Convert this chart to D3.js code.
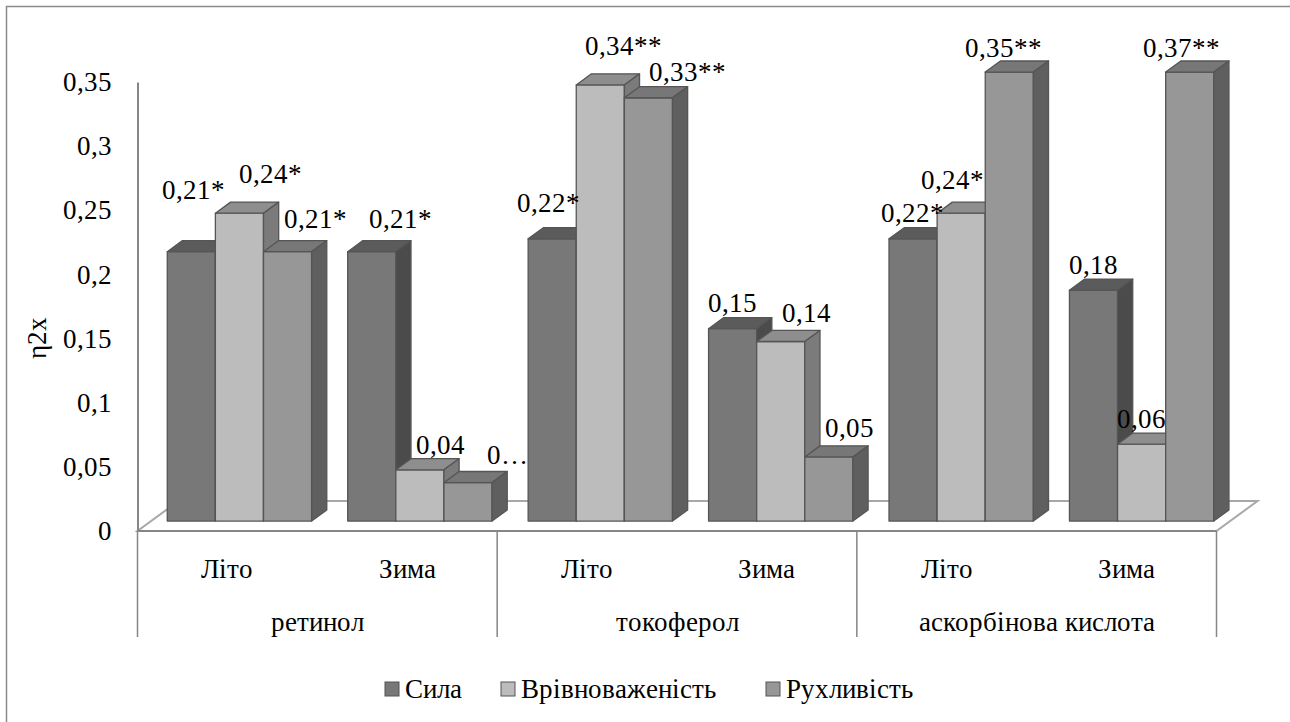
<!DOCTYPE html>
<html>
<head>
<meta charset="utf-8">
<script src="https://cdn.jsdelivr.net/npm/d3@7/dist/d3.min.js"></script>
<style>
  @font-face { font-family: "ChartSerif"; src: local("Liberation Serif"), local("LiberationSerif-Regular"), local("Times New Roman"); }
  svg text { font-family: "ChartSerif", "Liberation Serif", "Times New Roman", serif !important; }
</style>
</head>
<body style="margin:0;background:#fff">
<svg id="chart" width="1290" height="722"></svg>
<script>
// Seasons (inner categories) and substances (outer categories)
const seasons = ["Літо", "Зима", "Літо", "Зима", "Літо", "Зима"];
const substances = ["ретинол", "токоферол", "аскорбінова кислота"];
const seriesNames = ["Сила", "Врівноваженість", "Рухливість"];

// η2x values per series, one per season/substance pair
const sila = [0.21, 0.21, 0.22, 0.15, 0.22, 0.18];
const vrivn = [0.24, 0.04, 0.34, 0.14, 0.24, 0.06];
const rukh = [0.21, 0.03, 0.33, 0.05, 0.35, 0.37];

// significance marks appended to the value labels
const silaStars = ["*", "*", "*", "", "*", ""];
const vrivnStars = ["*", "", "**", "", "*", ""];
const rukhStars = ["*", "", "**", "", "**", "**"];

const yTicks = [0, 0.05, 0.1, 0.15, 0.2, 0.25, 0.3, 0.35];
const yMax = 0.35;

const seriesValues = [sila, vrivn, rukh];
const seriesStars = [silaStars, vrivnStars, rukhStars];

// ---- drawing ----
const FONT = "Liberation Serif";
const FS = 27;
const svg = d3.select("#chart");
const frontFill = ["#787878", "#bcbcbc", "#979797"];
const topFill = ["#5b5b5b", "#8e8e8e", "#777777"];
const sideFill = ["#4b4b4b", "#7b7b7b", "#5f5f5f"];
const edge = "#555555";

// serif text helper
const styleText = sel => sel.attr("font-family", FONT).attr("font-size", FS).attr("fill", "#000");

// plot box on the front plane
const x0 = 137.5, x1 = 1216.5;
const yBase = 531, yTop = 82;
// full floor depth offset and the slice of it occupied by the bars
const depth = { dx: 41, dy: -30 };
const zFront = 0.33, zBack = 0.70;

const x = d3.scaleBand().domain(d3.range(seasons.length)).range([x0, x1]).paddingInner(0.2).paddingOuter(0.09);
const xs = d3.scaleBand().domain(d3.range(seriesNames.length)).range([0, x.bandwidth()]);
const y = d3.scaleLinear().domain([0, yMax]).range([yBase, yTop]).clamp(true);

const proj = (px, py, z) => [px + z * depth.dx, py + z * depth.dy];

// outer frame
svg.append("rect").attr("x", 6.5).attr("y", 6.5).attr("width", 1400).attr("height", 900)
  .attr("fill", "none").attr("stroke", "#8c8c8c").attr("stroke-width", 1.5);

// floor
const floor = [proj(x0, yBase, 0), proj(x1, yBase, 0), proj(x1, yBase, 1), proj(x0, yBase, 1)];
svg.append("path").attr("d", d3.line()(floor) + "Z")
  .attr("fill", "none").attr("stroke", "#a8a8a8").attr("stroke-width", 2);

// value axis
const yAxis = d3.axisLeft(y).tickValues(yTicks).tickSize(0).tickPadding(26)
  .tickFormat(d => d3.format(".2~f")(d).replace(".", ","));
const gy = svg.append("g").attr("transform", `translate(${x0},0)`).call(yAxis)
  .attr("font-family", FONT).attr("font-size", FS);
gy.select(".domain").attr("stroke", "#868686").attr("stroke-width", 2);
gy.selectAll("text").call(styleText);

svg.append("text")
  .attr("transform", "translate(46,338) rotate(-90)")
  .attr("text-anchor", "middle").call(styleText).text("η2x");

// category axis: front line and group separators
svg.append("line").attr("x1", x0).attr("x2", x1).attr("y1", yBase).attr("y2", yBase)
  .attr("stroke", "#868686").attr("stroke-width", 2);
const sepX = d3.range(0, seasons.length + 1, 2).map(i => x0 + (x1 - x0) * i / seasons.length);
svg.selectAll(".sep").data(sepX).enter().append("line")
  .attr("x1", d => d).attr("x2", d => d).attr("y1", yBase).attr("y2", 637)
  .attr("stroke", "#868686").attr("stroke-width", 1.5);

const step = (x1 - x0) / seasons.length;
svg.selectAll(".season").data(seasons).enter().append("text")
  .attr("x", (d, i) => x0 + step * (i + 0.5)).attr("y", 578)
  .attr("text-anchor", "middle").call(styleText).text(d => d);
svg.selectAll(".substance").data(substances).enter().append("text")
  .attr("x", (d, i) => x0 + step * (2 * i + 1)).attr("y", 631)
  .attr("text-anchor", "middle").call(styleText).text(d => d);

// 3D bars, left to right so right-hand bars overlap the side faces of their neighbours
const bars = [];
seasons.forEach((s, ci) => {
  seriesValues.forEach((vals, si) => {
    bars.push({ ci, si, v: vals[ci] });
  });
});
const gBars = svg.append("g");
bars.forEach(b => {
  const left = x(b.ci) + xs(b.si), right = left + xs.bandwidth();
  const yb = y(0), yt = y(b.v);
  const fl = proj(left, yb, zFront), fr = proj(right, yb, zFront);
  const tl = proj(left, yt, zFront), tr = proj(right, yt, zFront);
  const btl = proj(left, yt, zBack), btr = proj(right, yt, zBack), bbr = proj(right, yb, zBack);
  const g = gBars.append("g").attr("stroke", edge).attr("stroke-width", 1.3).attr("stroke-linejoin", "round");
  g.append("path").attr("d", d3.line()([fl, fr, tr, tl]) + "Z").attr("fill", frontFill[b.si]);
  g.append("path").attr("d", d3.line()([tl, tr, btr, btl]) + "Z").attr("fill", topFill[b.si]);
  g.append("path").attr("d", d3.line()([fr, bbr, btr, tr]) + "Z").attr("fill", sideFill[b.si]);
});

// value labels: centred above the front top edge, with small shifts where they would collide
const labelShift = [
  [[2, -36], [29, -7], [-4, -10], [0, 0], [-1, 0], [0, 0]],
  [[31, -14], [21, 1], [23, -13], [26, -3], [-9, -8], [0, 0]],
  [[28, -7], [40, -2], [39, 0], [21, -3], [-6, 1], [-8, 1]]
];
const shortened = [[2, 1]]; // [series, category] labels that do not fit and are cut
const fmt = v => d3.format(".2f")(v).replace(".", ",");
svg.append("g").selectAll("text").data(bars).enter().append("text")
  .attr("x", b => proj(x(b.ci) + xs(b.si) + xs.bandwidth() / 2, 0, zFront)[0] + labelShift[b.si][b.ci][0])
  .attr("y", b => proj(0, y(b.v), zFront)[1] - 26 + labelShift[b.si][b.ci][1])
  .attr("dy", "0.35em")
  .attr("text-anchor", "middle").call(styleText)
  .text(b => shortened.some(p => p[0] === b.si && p[1] === b.ci)
    ? fmt(b.v).slice(0, 1) + "…"
    : fmt(b.v) + seriesStars[b.si][b.ci]);

// legend
const legendX = [385, 501, 766];
const lg = svg.append("g").selectAll("g").data(seriesNames).enter().append("g")
  .attr("transform", (d, i) => `translate(${legendX[i]},689)`);
lg.append("rect").attr("x", 0).attr("y", -7).attr("width", 14).attr("height", 14)
  .attr("fill", (d, i) => frontFill[i]).attr("stroke", edge).attr("stroke-width", 1);
lg.append("text").attr("x", 20).attr("dy", "0.35em").call(styleText).text(d => d);
</script>
</body>
</html>
